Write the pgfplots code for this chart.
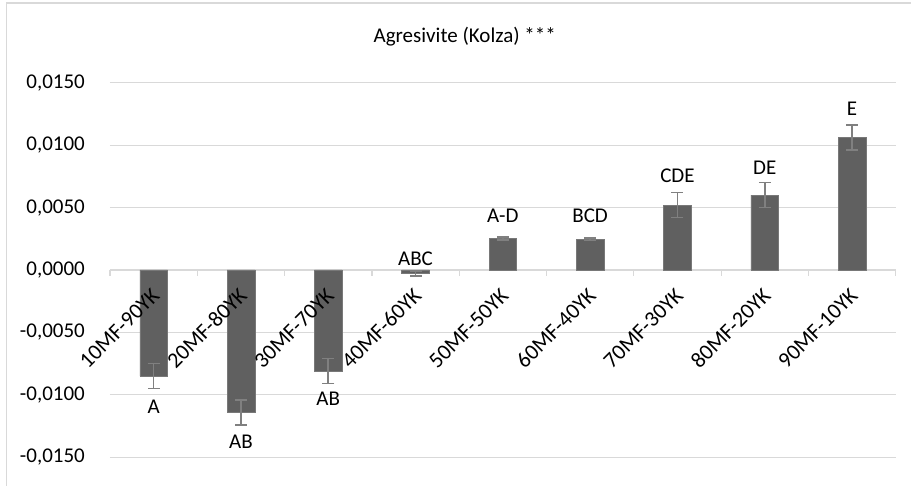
\documentclass[border=0pt]{standalone}
\usepackage{pgfplots}
\pgfplotsset{compat=1.18}
\usepackage{fontspec}
\setmainfont{Carlito}
\definecolor{gridc}{HTML}{D9D9D9}
\definecolor{barc}{HTML}{606060}
\definecolor{errc}{HTML}{808080}
\pgfplotsset{
  common/.style={
    at={(110bp,28.7bp)}, anchor=south west,
    scale only axis, width=785.7bp, height=374.6bp,
    xmin=0.5, xmax=9.5, ymin=-0.015, ymax=0.015,
    clip=false,
  },
}
\begin{document}
\begin{tikzpicture}
\useasboundingbox (0,0) rectangle (911bp,486bp);
\draw[gridc, line width=1.8bp] (6.5bp,0) -- (6.5bp,483bp) -- (911bp,483bp);
\begin{axis}[
  common,
  axis x line=middle, axis y line=left,
  x axis line style={-, gridc, line width=1.2bp},
  y axis line style={draw=none},
  xtick={1,...,9},
  xticklabels={},
  major x tick style={draw=none},
  minor xtick={0.5,1.5,...,9.5},
  minor x tick style={gridc, line width=1.2bp},
  minor tick length=6bp,
  tick align=outside,
  ytick={-0.015,-0.01,-0.005,0,0.005,0.01,0.015},
  yticklabels={{-0,0150},{-0,0100},{-0,0050},{0,0000},{0,0050},{0,0100},{0,0150}},
  scaled y ticks=false,
  major y tick style={draw=none},
  ymajorgrids, major grid style={gridc, line width=1.2bp},
  tick label style={font=\fontsize{21bp}{25bp}\selectfont, text=black},
  yticklabel style={anchor=east, inner sep=0pt, xshift=-20.7bp},
]
\addplot[ybar, bar width=27.7bp, fill=barc, draw=barc!85!white, line width=0.6bp,
  error bars/.cd, y dir=both, y explicit,
  error bar style={errc, line width=1.6bp},
  error mark options={errc, rotate=90, mark size=6bp, line width=1.6bp}]
coordinates {
  (1,-0.0085) +- (0,0.0010)
  (2,-0.0114) +- (0,0.0010)
  (3,-0.0081) +- (0,0.0010)
  (4,-0.0003) +- (0,0.0002)
  (5,0.00253) +- (0,0.00013)
  (6,0.00245) +- (0,0.0001)
  (7,0.0052) +- (0,0.0010)
  (8,0.0060) +- (0,0.0010)
  (9,0.0106) +- (0,0.0010)
};
\addplot[draw=none, mark=none, nodes near coords, point meta=explicit symbolic,
  nodes near coords align=center,
  every node near coord/.append style={font=\fontsize{21bp}{25bp}\selectfont, text=black, inner sep=0pt}]
coordinates {
  (1,-0.01099) [A]
  (2,-0.01373) [AB]
  (3,-0.01035) [AB]
  (4,0.00094) [ABC]
  (5,0.00434) [A-D]
  (6,0.00432) [BCD]
  (7,0.00752) [CDE]
  (8,0.00822) [DE]
  (9,0.01294) [E]
};
\end{axis}
\begin{axis}[
  common,
  axis x line=middle, axis y line=none,
  x axis line style={draw=none},
  ytick=\empty,
  xtick={1,...,9},
  xticklabels={10MF-90YK,20MF-80YK,30MF-70YK,40MF-60YK,50MF-50YK,60MF-40YK,70MF-30YK,80MF-20YK,90MF-10YK},
  major x tick style={draw=none},
  tick align=outside,
  tick label style={font=\fontsize{22bp}{26bp}\selectfont, text=black},
  xticklabel style={rotate=45, anchor=east, inner sep=2bp, xshift=-9bp, yshift=-14bp},
]
\end{axis}
\node[font=\fontsize{21bp}{25bp}\selectfont, inner sep=0pt] at (464.7bp,449bp) {Agresivite (Kolza) ***};
\end{tikzpicture}
\end{document}
